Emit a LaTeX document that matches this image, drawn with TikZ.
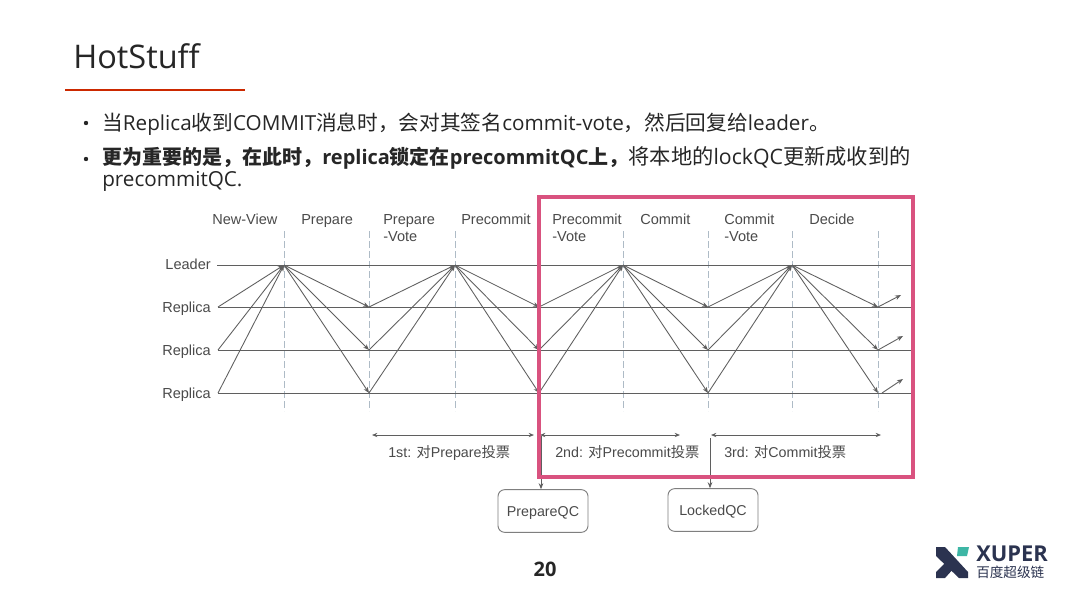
\documentclass[tikz,border=0pt]{standalone}
\usepackage{fontspec}
\setmainfont{Open Sans}
\newfontfamily\arialf{Liberation Sans}
\newfontfamily\cjkf{Noto Sans CJK SC}
\newfontfamily\cjkm{Noto Sans CJK SC Medium}
\usetikzlibrary{arrows.meta,shapes.geometric,calc}
\definecolor{lineg}{HTML}{5F5F5F}
\definecolor{dashc}{HTML}{AEBBC6}
\definecolor{pinkb}{HTML}{D9527F}
\definecolor{txt}{HTML}{262626}
\definecolor{navy}{HTML}{2B3350}
\definecolor{tealc}{HTML}{3DB6A5}
\definecolor{labc}{HTML}{4A4A4A}
\tikzset{
 x=0.75pt,y=-0.75pt,
 hline/.style={draw=lineg,line width=0.7pt},
 vdash/.style={draw=dashc,line width=0.65pt,dash pattern=on 5pt off 2.5pt},
 msg/.style={draw=lineg,line width=0.65pt,-{Stealth[length=4.5pt,width=3.5pt]}},
 span/.style={draw=lineg,line width=0.65pt,{Stealth[length=4pt,width=3.2pt]}-{Stealth[length=4pt,width=3.2pt]}},
 lab/.style={font=\arialf\fontsize{10.9pt}{12pt}\selectfont,text=labc,inner sep=0pt,anchor=base west,align=left},
 lablr/.style={lab,anchor=base east},
 bul/.style={font=\fontsize{15.5pt}{16pt}\selectfont,text=txt,inner sep=0pt,anchor=base west},
 qc/.style={draw=lineg!80,rounded corners=5pt,line width=0.7pt,minimum width=67.5pt,minimum height=32pt,inner sep=0pt,text height=7.5pt,text depth=0pt,font=\arialf\fontsize{10.7pt}{12pt}\selectfont,text=labc},
 cnt/.style={font=\arialf\fontsize{10.7pt}{12pt}\selectfont,text=labc,inner sep=0pt,anchor=base west}
}
\newcommand{\bsz}{\fontsize{15pt}{16pt}\selectfont}
\newcommand{\rsz}{\fontsize{15.95pt}{16pt}\selectfont}
\begin{document}
\begin{tikzpicture}
\useasboundingbox (0,0) rectangle (1080,607);
\fill[white] (0,0) rectangle (1080,607);
% title
\node[inner sep=0pt,anchor=base west,text=txt,font=\fontsize{24.4pt}{28pt}\selectfont] (title) at (73,68) {HotStuff};
\coordinate (ul1) at (65,90); \coordinate (ul2) at (245,90);
\draw[draw=red!60!orange!80!black,line width=1.1pt] (ul1) -- (ul2);
% bullets
\fill[txt] (86,123) circle (2.2);
\fill[txt] (86,159) circle (2.2);
\node[bul] (b1) at (102,130) {\cjkf 当\normalfont Replica\cjkf 收到\normalfont COMMIT\cjkf 消息时，会对其签名\normalfont commit-vote\cjkf ，然后回复给\normalfont leader\cjkf 。};
\node[bul] (b2) at (102,164) {\bsz\bfseries\cjkm\bfseries 更为重要的是，在此时，\normalfont\bfseries\bsz replica\cjkm\bfseries 锁定在\normalfont\bfseries\bsz precommitQC\cjkm\bfseries 上，\normalfont\cjkf\rsz 将本地的\normalfont\rsz lockQC\cjkf 更新成收到的};
\node[bul] (b3) at (102,186) {precommitQC.};
% dashed lines
\foreach \n/\x in {a/284,b/369,c/455,d/539,e/623,f/708,g/792,h/878}{
  \coordinate (t\n) at (\x,231); \coordinate (u\n) at (\x,411);
  \draw[vdash] (t\n) -- (u\n);
}
% rails
\coordinate (L0) at (217,265); \coordinate (Lend) at (911,265);
\coordinate (A0) at (218,307); \coordinate (Aend) at (911,307);
\coordinate (B0) at (218,350); \coordinate (Bend) at (911,350);
\coordinate (C0) at (218,393); \coordinate (Cend) at (911,393);
\draw[hline] (L0)--(Lend); \draw[hline] (A0)--(Aend); \draw[hline] (B0)--(Bend); \draw[hline] (C0)--(Cend);
\node[lablr] (ll) at (211,269) {Leader};
\node[lablr] (r1) at (211,312) {Replica};
\node[lablr] (r2) at (211,355) {Replica};
\node[lablr] (r3) at (211,398) {Replica};
% phase labels
\node[lab] at (212,224) {New-View};
\node[lab] at (301,224) {Prepare};
\node[lab] at (383,224) {Prepare};
\node[lab] at (383,241) {-Vote};
\node[lab] at (461,224) {Precommit};
\node[lab] at (552,224) {Precommit};
\node[lab] at (552,241) {-Vote};
\node[lab] at (640,224) {Commit};
\node[lab] at (724,224) {Commit};
\node[lab] at (724,241) {-Vote};
\node[lab] at (809,224) {Decide};
% junctions
\foreach \n/\x in {1/284,2/455,3/623,4/792}{\coordinate (P\n) at (\x,265);}
\foreach \n/\x in {1/369,2/539,3/708,4/878}{
  \coordinate (Q\n) at (\x,307); \coordinate (R\n) at (\x,350); \coordinate (S\n) at (\x,393);
}
% messages
\foreach \s in {A0,B0,C0}{\draw[msg] (\s) -- (P1);}
\foreach \i/\j in {1/1,2/2,3/3,4/4}{
  \draw[msg] (P\i) -- (Q\j); \draw[msg] (P\i) -- (R\j); \draw[msg] (P\i) -- (S\j);
}
\foreach \j/\k in {1/2,2/3,3/4}{
  \draw[msg] (Q\j) -- (P\k); \draw[msg] (R\j) -- (P\k); \draw[msg] (S\j) -- (P\k);
}
\coordinate (o1) at (901,295); \coordinate (o2) at (903,336); \coordinate (o3) at (903,379);
\coordinate (s3) at (882,393);
\draw[msg] (Q4) -- (o1); \draw[msg] (R4) -- (o2); \draw[msg] (s3) -- (o3);
% spans
\coordinate (sa) at (372,435); \coordinate (sb) at (534,435);
\coordinate (sc) at (540,435); \coordinate (sd) at (680,435);
\coordinate (sg) at (711,435); \coordinate (si) at (881,435);
\draw[span] (sa) -- (sb);
\draw[span] (sc) -- (sd);
\draw[span] (sg) -- (si);
\node[cnt] at (388,457) {1st: {\cjkf 对}Prepare{\cjkf 投票}};
\node[cnt] at (555,457) {2nd: {\cjkf 对}Precommit{\cjkf 投票}};
\node[cnt] at (724,457) {3rd: {\cjkf 对}Commit{\cjkf 投票}};
% QC boxes
\node[qc] (pqc) at (543,511) {PrepareQC};
\node[qc] (lqc) at (713,510) {LockedQC};
\coordinate (pq0) at (541,436); \coordinate (lq0) at (710,438);
\draw[msg] (pq0) -- (pq0 |- pqc.north) coordinate (pqe);
\draw[msg] (lq0) -- (lq0 |- lqc.north);
% pink frame
\draw[pinkb,line width=2.5pt] (539,197) rectangle (913,477);
% page number
\node[inner sep=0pt,text=txt,font=\fontsize{15pt}{16pt}\selectfont\bfseries] (pg) at (545,569) {20};
% logo
\fill[navy] (936,547) -- (945,547) -- (968,572) -- (968,578) -- (959,578) -- (936,556) -- cycle;
\fill[navy] (936,578) -- (945,578) -- (954,568) -- (947,561) -- (936,572) -- cycle;
\fill[tealc] (958,547) -- (969,547) -- (967,556) -- (957,556) -- cycle;
\node[inner sep=0pt,anchor=base west,text=navy,text height=8.5pt,text depth=0pt,font=\fontsize{16.4pt}{17pt}\selectfont\bfseries] (xp) at (976,561.5) {XUPER};
\node[inner sep=0pt,anchor=base west,text=navy,text height=7pt,text depth=0pt,font=\cjkf\fontsize{10.2pt}{11pt}\selectfont] (bd) at (976,577.5) {百度超级链};
\end{tikzpicture}
\end{document}
